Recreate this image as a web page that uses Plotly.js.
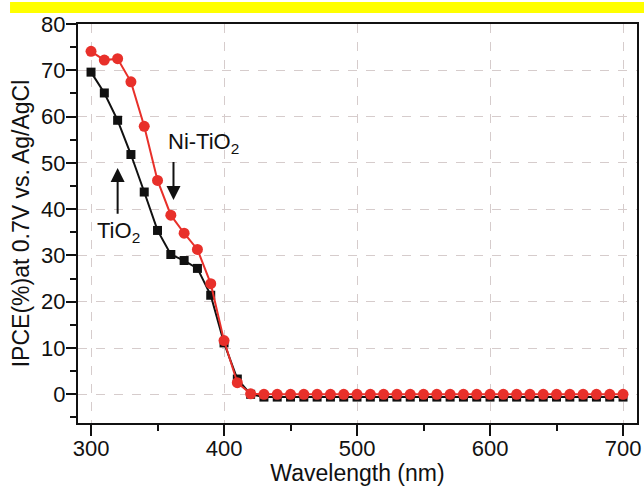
<!DOCTYPE html>
<html>
<head>
<meta charset="utf-8">
<script src="https://cdn.plot.ly/plotly-3.0.1.min.js"></script>
<style>html,body{margin:0;padding:0;background:#fff;}#chart{width:644px;height:486px;}</style>
</head>
<body>
<div id="chart"></div>
<script>
// Wavelength (nm)
const wavelength = [300,310,320,330,340,350,360,370,380,390,400,410,420,430,440,450,460,470,480,490,500,510,520,530,540,550,560,570,580,590,600,610,620,630,640,650,660,670,680,690,700];
// IPCE (%) – TiO2 (black squares)
const tio2 = [69.6,65.1,59.2,51.8,43.7,35.4,30.2,28.9,27.2,21.4,11.1,3.3,0.0,
  -0.6,-0.6,-0.6,-0.6,-0.6,-0.6,-0.6,-0.6,-0.6,-0.6,-0.6,-0.6,-0.6,-0.6,-0.6,-0.6,-0.6,-0.6,-0.6,-0.6,-0.6,-0.6,-0.6,-0.6,-0.6,-0.6,-0.6,-0.6];
// IPCE (%) – Ni-TiO2 (red circles)
const niTio2 = [74.1,72.2,72.5,67.5,57.9,46.2,38.7,34.8,31.3,23.9,11.6,2.5,0.1,
  0,0,0,0,0,0,0,0,0,0,0,0,0,0,0,0,0,0,0,0,0,0,0,0,0,0,0,0];
const xTicks = [300,400,500,600,700];
const yTicks = [0,10,20,30,40,50,60,70,80];

const FONT = '"Liberation Sans", Arial, sans-serif';

const traces = [
  {x: wavelength, y: tio2, type: 'scatter', mode: 'lines+markers', name: 'TiO2',
   line: {color: '#111111', width: 2}, marker: {symbol: 'square', size: 9, color: '#111111'}},
  {x: wavelength, y: niTio2, type: 'scatter', mode: 'lines+markers', name: 'Ni-TiO2',
   line: {color: '#e8302a', width: 2}, marker: {symbol: 'circle', size: 11, color: '#e8302a'}}
];

const layout = {
  width: 644, height: 486,
  margin: {l: 78, r: 7, t: 24, b: 63},
  paper_bgcolor: '#ffffff', plot_bgcolor: '#ffffff',
  showlegend: false,
  font: {family: FONT, color: '#111', size: 22},
  xaxis: {
    range: [290.2, 710.5], tickvals: xTicks, ticktext: xTicks.map(String),
    ticks: 'outside', ticklen: 11, tickwidth: 2, tickcolor: '#111',
    ticklabelstandoff: -6,
    minor: {ticks: 'outside', dtick: 50, tick0: 300, ticklen: 6, tickwidth: 2, tickcolor: '#111', showgrid: false},
    showline: true, linecolor: '#111', linewidth: 2, mirror: true,
    showgrid: true, gridcolor: '#d6cccc', griddash: 'dash', gridwidth: 1,
    zeroline: false,
    tickfont: {family: FONT, size: 22, color: '#111'},
    title: {text: 'Wavelength (nm)', font: {family: FONT, size: 23, color: '#111'}, standoff: 4}
  },
  yaxis: {
    range: [-6.2, 80], tickvals: yTicks, ticktext: yTicks.map(String),
    ticks: 'outside', ticklen: 10, tickwidth: 2, tickcolor: '#111',
    ticklabelstandoff: -4,
    minor: {ticks: 'outside', dtick: 5, tick0: 0, ticklen: 6, tickwidth: 2, tickcolor: '#111', showgrid: false},
    showline: true, linecolor: '#111', linewidth: 2, mirror: true,
    showgrid: true, gridcolor: '#d6cccc', griddash: 'dash', gridwidth: 1,
    zeroline: false,
    tickfont: {family: FONT, size: 22, color: '#111'},
    title: {text: 'IPCE(%)at 0.7V vs. Ag/AgCl', font: {family: FONT, size: 23, color: '#111'}, standoff: 5}
  },
  shapes: [
    {type: 'rect', xref: 'paper', yref: 'paper', x0: -0.1216, x1: 1.02, y0: 1.0276, y1: 1.055,
     fillcolor: '#ffff00', line: {width: 0}, layer: 'above'}
  ],
  annotations: [
    {x: 384.4, y: 54.3, xref: 'x', yref: 'y', text: 'Ni-TiO<sub>2</sub>', showarrow: false,
     font: {family: FONT, size: 22, color: '#111'}},
    {x: 362, y: 42.0, ax: 362, ay: 50.5, xref: 'x', yref: 'y', axref: 'x', ayref: 'y', text: '',
     showarrow: true, arrowhead: 2, arrowsize: 1.4, arrowwidth: 2, arrowcolor: '#111'},
    {x: 321, y: 35.1, xref: 'x', yref: 'y', text: 'TiO<sub>2</sub>', showarrow: false,
     font: {family: FONT, size: 22, color: '#111'}},
    {x: 320, y: 48.9, ax: 320, ay: 38.7, xref: 'x', yref: 'y', axref: 'x', ayref: 'y', text: '',
     showarrow: true, arrowhead: 2, arrowsize: 1.4, arrowwidth: 2, arrowcolor: '#111'}
  ]
};

Plotly.newPlot('chart', traces, layout, {displayModeBar: false, staticPlot: true});
</script>
</body>
</html>
